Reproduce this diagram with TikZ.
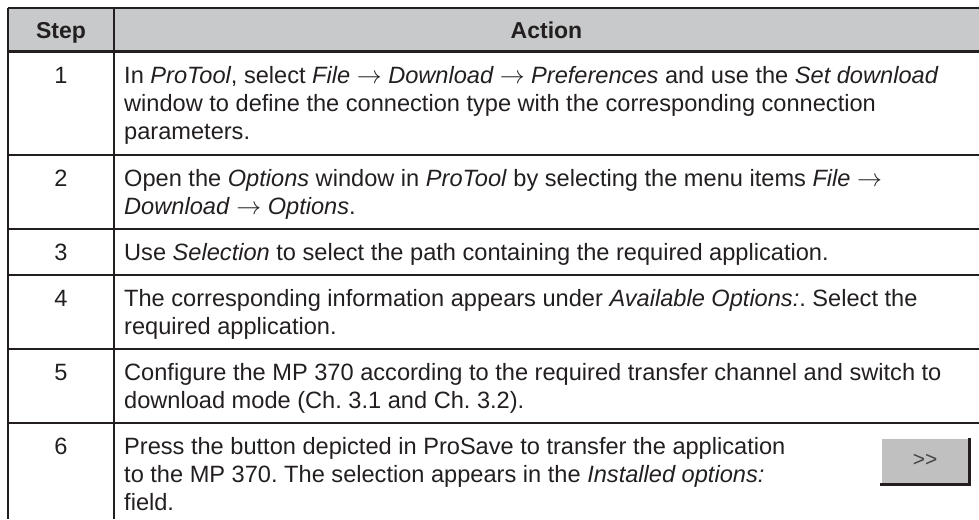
\documentclass[tikz,border=0pt]{standalone}
\usepackage{fontspec}
\setmainfont{Liberation Sans}
\definecolor{ink}{HTML}{231F20}
\definecolor{headgray}{HTML}{C8C9CA}
\definecolor{btngray}{HTML}{C0C0C0}
\begin{document}
\frenchspacing
\begin{tikzpicture}[x=1pt,y=-1pt,
  txt/.style={anchor=base west,inner sep=0pt,text=ink,font=\fontsize{23.6}{28}\selectfont},
  num/.style={anchor=base,inner sep=0pt,text=ink,font=\fontsize{23.6}{28}\selectfont},
  head/.style={anchor=base,inner sep=0pt,text=ink,font=\fontsize{23}{28}\selectfont\bfseries},
  rule/.style={draw=ink,line width=1.3pt}]
\useasboundingbox (0,0) rectangle (979,519);
\fill[headgray] (8,8) rectangle (979,52);
\draw[rule] (8,8) -- (979,8);
\draw[draw=ink,line width=3.5pt] (8,51.5) -- (979,51.5);
\foreach \yy in {155,229,275,349,423} \draw[rule] (8,\yy) -- (979,\yy);
\draw[rule] (8,8) -- (8,519);
\draw[rule] (114,8) -- (114,519);
% header
\node[head] (hstep) at (61,38) {Step};
\node[head] (haction) at (546.5,38) {Action};
% row 1
\node[num] (n1) at (61,83) {1};
\node[txt] (r1a) at (124,83) {In \textit{ProTool}, select \textit{File $\rightarrow$ Download $\rightarrow$ Preferences} and use the \textit{Set download}};
\node[txt] (r1b) at (124,111) {window to define the connection type with the corresponding connection};
\node[txt] (r1c) at (124,139) {parameters.};
% row 2
\node[num] (n2) at (61,186) {2};
\node[txt] (r2a) at (124,186) {Open the \textit{Options} window in \textit{ProTool} by selecting the menu items \textit{File} $\rightarrow$};
\node[txt] (r2b) at (124,214) {\textit{Download} $\rightarrow$ \textit{Options}.};
% row 3
\node[num] (n3) at (61,260) {3};
\node[txt] (r3a) at (124,260) {Use \textit{Selection} to select the path containing the required application.};
% row 4
\node[num] (n4) at (61,306) {4};
\node[txt] (r4a) at (124,306) {The corresponding information appears under \textit{Available Options:}. Select the};
\node[txt] (r4b) at (124,334) {required application.};
% row 5
\node[num] (n5) at (61,380) {5};
\node[txt] (r5a) at (124,380) {Configure the MP 370 according to the required transfer channel and switch to};
\node[txt] (r5b) at (124,408) {download mode (Ch. 3.1 and Ch. 3.2).};
% row 6
\node[num] (n6) at (61,454) {6};
\node[txt] (r6a) at (124,454) {Press the button depicted in ProSave to transfer the application};
\node[txt] (r6b) at (124,482) {to the MP 370. The selection appears in the \textit{Installed options:}};
\node[txt] (r6c) at (124,510) {field.};
% button
\fill[btngray] (881,438) rectangle (970,484);
\draw[white,line width=1pt] (881,484) -- (881,438) -- (969,438);
\draw[ink,line width=3pt] (969.5,438) -- (969.5,485.5);
\draw[ink,line width=2.5pt] (880,484.5) -- (971,484.5);
\node[inner sep=0pt,text=ink!85,font=\fontsize{21}{24}\selectfont] (btn) at (925,460) {>{}>};
\end{tikzpicture}
\end{document}
